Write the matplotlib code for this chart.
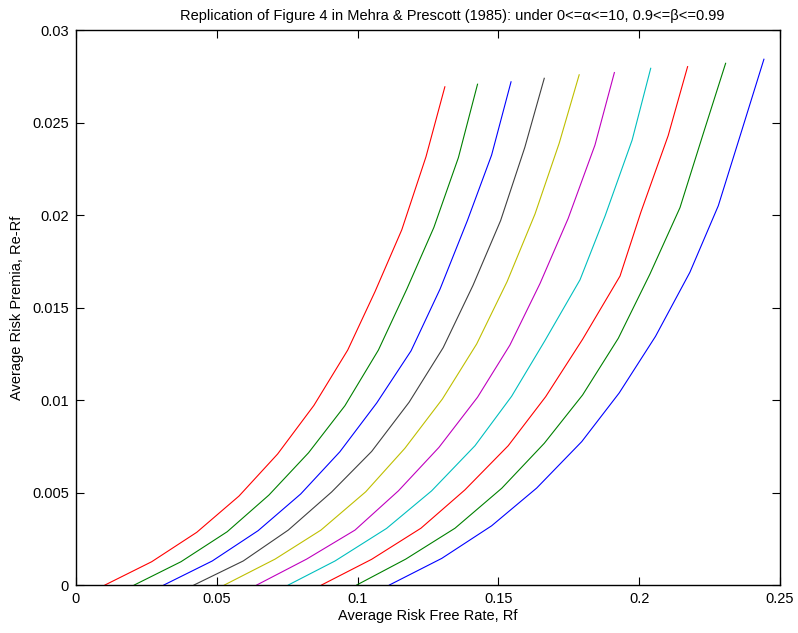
import matplotlib
matplotlib.use("Agg")
import matplotlib.pyplot as plt

plt.rcParams['font.family'] = ['Liberation Sans', 'DejaVu Sans']

# one curve per beta, alpha = 0..10 along each curve
betas = [0.99, 0.98, 0.97, 0.96, 0.95, 0.94, 0.93, 0.92, 0.91, 0.90]

rf = [
    [0.0103, 0.0269, 0.0429, 0.0579, 0.0716, 0.0845, 0.0965, 0.1062, 0.1157, 0.1243, 0.1310],
    [0.0207, 0.0373, 0.0537, 0.0685, 0.0826, 0.0955, 0.1074, 0.1175, 0.1271, 0.1358, 0.1426],
    [0.0312, 0.0484, 0.0647, 0.0798, 0.0937, 0.1068, 0.1190, 0.1293, 0.1390, 0.1476, 0.1545],
    [0.0419, 0.0594, 0.0754, 0.0908, 0.1050, 0.1183, 0.1304, 0.1410, 0.1508, 0.1594, 0.1663],
    [0.0527, 0.0707, 0.0870, 0.1029, 0.1168, 0.1301, 0.1423, 0.1531, 0.1630, 0.1716, 0.1787],
    [0.0642, 0.0819, 0.0991, 0.1145, 0.1289, 0.1426, 0.1541, 0.1648, 0.1748, 0.1843, 0.1912],
    [0.0754, 0.0920, 0.1103, 0.1263, 0.1417, 0.1547, 0.1665, 0.1790, 0.1879, 0.1975, 0.2041],
    [0.0872, 0.1050, 0.1225, 0.1381, 0.1535, 0.1668, 0.1799, 0.1932, 0.2006, 0.2103, 0.2172],
    [0.0997, 0.1171, 0.1346, 0.1512, 0.1663, 0.1799, 0.1926, 0.2038, 0.2145, 0.2228, 0.2307],
    [0.1113, 0.1299, 0.1476, 0.1636, 0.1796, 0.1929, 0.2058, 0.2180, 0.2281, 0.2364, 0.2443],
]

premia = [
    [0.0, 0.00126, 0.00285, 0.00481, 0.00708, 0.00971, 0.01270, 0.01586, 0.01920, 0.02315, 0.02693],
    [0.0, 0.00126, 0.00288, 0.00486, 0.00715, 0.00969, 0.01270, 0.01600, 0.01933, 0.02310, 0.02707],
    [0.0, 0.00130, 0.00294, 0.00492, 0.00720, 0.00984, 0.01266, 0.01600, 0.01970, 0.02324, 0.02720],
    [0.0, 0.00130, 0.00297, 0.00503, 0.00722, 0.00988, 0.01283, 0.01620, 0.01970, 0.02366, 0.02739],
    [0.0, 0.00140, 0.00297, 0.00504, 0.00739, 0.01005, 0.01303, 0.01640, 0.02005, 0.02388, 0.02758],
    [0.0, 0.00140, 0.00297, 0.00509, 0.00744, 0.01015, 0.01297, 0.01630, 0.01982, 0.02378, 0.02770],
    [0.0, 0.00130, 0.00306, 0.00509, 0.00753, 0.01020, 0.01320, 0.01650, 0.01995, 0.02405, 0.02793],
    [0.0, 0.00139, 0.00307, 0.00514, 0.00753, 0.01018, 0.01328, 0.01670, 0.02015, 0.02429, 0.02802],
    [0.0, 0.00140, 0.00307, 0.00523, 0.00766, 0.01027, 0.01334, 0.01680, 0.02040, 0.02442, 0.02820],
    [0.0, 0.00144, 0.00320, 0.00524, 0.00775, 0.01038, 0.01344, 0.01690, 0.02050, 0.02455, 0.02842],
]

colors = ['#ff0000', '#008000', '#0000ff', '#404040', '#bfbf00',
          '#bf00bf', '#00bfbf', '#ff0000', '#008000', '#0000ff']

fig = plt.figure(figsize=(7.98, 6.33), dpi=100)
ax = fig.add_axes([0.0952, 0.0758, 0.8822, 0.8768])

for i in range(len(betas)):
    ax.plot(rf[i], premia[i], color=colors[i], linewidth=0.8)

ax.set_xlim(0, 0.25)
ax.set_ylim(0, 0.03)
ax.set_xticks([0, 0.05, 0.1, 0.15, 0.2, 0.25])
ax.set_xticklabels(['0', '0.05', '0.1', '0.15', '0.2', '0.25'])
ax.set_yticks([0, 0.005, 0.01, 0.015, 0.02, 0.025, 0.03])
ax.set_yticklabels(['0', '0.005', '0.01', '0.015', '0.02', '0.025', '0.03'])
ax.tick_params(direction='in', length=6, width=0.8, top=True, right=True,
               labelsize=10.5, pad=5)
for s in ax.spines.values():
    s.set_linewidth(1.0)

ax.set_xlabel('Average Risk Free Rate, Rf', fontsize=10.5, labelpad=2)
ax.set_ylabel('Average Risk Premia, Re-Rf', fontsize=10.5, labelpad=6)
# title sits a bit right of centre in the original
ax.text(0.535, 1.012, 'Replication of Figure 4 in Mehra & Prescott (1985): under 0<=α<=10, 0.9<=β<=0.99',
        transform=ax.transAxes, ha='center', va='bottom', fontsize=10.5)

fig.savefig('out.png', dpi=100)
